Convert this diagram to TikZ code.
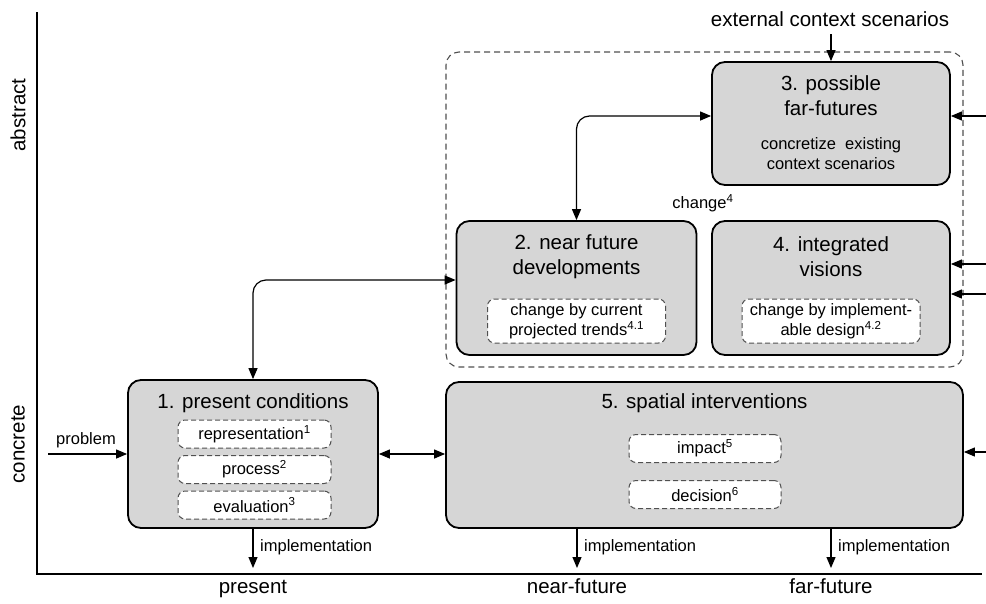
\documentclass[tikz,border=0pt]{standalone}
\usepackage{fontspec}
\setmainfont{Liberation Sans}
\usetikzlibrary{arrows.meta}
\definecolor{boxgray}{RGB}{214,214,214}
\definecolor{dashgray}{RGB}{80,80,80}
\begin{document}
\begin{tikzpicture}[x=1pt,y=-1pt,
  bigbox/.style={draw=black, line width=1.8pt, fill=boxgray, rounded corners=13pt, inner sep=0pt},
  subbox/.style={draw=dashgray, line width=1pt, dash pattern=on 5pt off 3pt, fill=white, rounded corners=7pt, inner sep=0pt, align=center, font=\fontsize{16.5}{20}\selectfont},
  outerbox/.style={draw=dashgray, line width=1.1pt, dash pattern=on 6pt off 4pt, rounded corners=13pt, inner sep=0pt},
  big/.style={font=\fontsize{20.5}{25}\selectfont, align=center, inner sep=0pt},
  small/.style={font=\fontsize{16.5}{20}\selectfont, align=center, inner sep=0pt},
  axisline/.style={line width=1.8pt},
  arr/.style={-{Triangle[length=11pt,width=9pt]}, line width=1.2pt},
  darr/.style={{Triangle[length=11pt,width=9pt]}-{Triangle[length=11pt,width=9pt]}, line width=1.2pt},
]
\useasboundingbox (0,0) rectangle (986,603);

% axes
\coordinate (ytop) at (37,12);
\coordinate (origin) at (37,574);
\coordinate (xend) at (982,574);
\draw[axisline] (ytop) -- (origin) -- (xend);
\node[big, rotate=90] (labs) at (18,115) {abstract};
\node[big, rotate=90] (lcon) at (18,444) {concrete};
\node[big, anchor=base] (lpre) at (253,593) {present};
\node[big, anchor=base] (lnear) at (577,593) {near-future};
\node[big, anchor=base] (lfar) at (831,593) {far-future};

% outer dashed group
\node[outerbox, minimum width=517pt, minimum height=315pt] (ob) at (704.5,209.5) {};

% box 1
\node[bigbox, minimum width=250pt, minimum height=148pt] (b1) at (253,454) {};
\node[big] (t1) at (253,403) {1. present conditions};
\node[subbox, minimum width=153pt, minimum height=28pt] (s11) at (254.5,434) {representation\textsuperscript{1}};
\node[subbox, minimum width=153pt, minimum height=28pt] (s12) at (254.5,469.5) {process\textsuperscript{2}};
\node[subbox, minimum width=153pt, minimum height=28pt] (s13) at (254.5,505) {evaluation\textsuperscript{3}};

% box 5
\node[bigbox, minimum width=517pt, minimum height=146pt] (b5) at (704.5,455) {};
\node[big] (t5) at (704.5,403) {5. spatial interventions};
\node[subbox, minimum width=152pt, minimum height=28pt] (s51) at (705,448.5) {impact\textsuperscript{5}};
\node[subbox, minimum width=152pt, minimum height=28pt] (s52) at (705,494.5) {decision\textsuperscript{6}};

% box 2
\node[bigbox, minimum width=240pt, minimum height=134pt] (b2) at (576.5,288) {};
\node[big] (t2) at (576.5,257) {2. near future\\developments};
\node[subbox, minimum width=178pt, minimum height=44pt] (s2) at (576.5,321) {change by current\\projected trends\textsuperscript{4.1}};

% box 4
\node[bigbox, minimum width=238pt, minimum height=134pt] (b4) at (831,288) {};
\node[big] (t4) at (831,257) {4. integrated\\visions};
\node[subbox, minimum width=178pt, minimum height=44pt] (s4) at (831,321) {change by implement-\\able design\textsuperscript{4.2}};

% box 3
\node[bigbox, minimum width=238pt, minimum height=123pt] (b3) at (831,123.5) {};
\node[big] (t3) at (831,96) {3. possible\\far-futures};
\node[small] (c3) at (831,154) {concretize\ \ existing\\context scenarios};

\node[small] (chg) at (703,203) {change\textsuperscript{4}};

% external context
\node[big] (ext) at (830,19) {external context scenarios};
\coordinate (extA) at (831,34);
\draw[arr] (extA) -- (b3.north);

% problem
\coordinate (p0) at (48,454);
\draw[arr] (p0) -- (b1.west);
\node[small] (lprob) at (86,440) {problem};

% 1 <-> 5
\draw[darr] (b1.east) -- (b1.east -| b5.west);

% 1 <-> 2
\draw[darr, rounded corners=13pt] (b1.north) |- ([yshift=8pt]b2.west);

% 2 <-> 3
\draw[darr, rounded corners=13pt] (b2.north) |- ([yshift=7.5pt]b3.west);

% right edge inputs
\coordinate (r3) at (986,116);
\coordinate (r4a) at (986,264);
\coordinate (r4b) at (986,294);
\coordinate (r5) at (986,452);
\draw[arr] (r3) -- (r3 -| b3.east);
\draw[arr] (r4a) -- (r4a -| b4.east);
\draw[arr] (r4b) -- (r4b -| b4.east);
\draw[arr] (r5) -- (r5 -| b5.east);

% implementation
\coordinate (i1) at (253,568);
\coordinate (i2) at (577,568);
\coordinate (i3) at (831,568);
\draw[arr] (b1.south) -- (i1);
\draw[arr] (b5.south -| i2) -- (i2);
\draw[arr] (b5.south -| i3) -- (i3);
\node[small, anchor=west] (li1) at (260,547) {implementation};
\node[small, anchor=west] (li2) at (584,547) {implementation};
\node[small, anchor=west] (li3) at (838,547) {implementation};
\end{tikzpicture}
\end{document}
